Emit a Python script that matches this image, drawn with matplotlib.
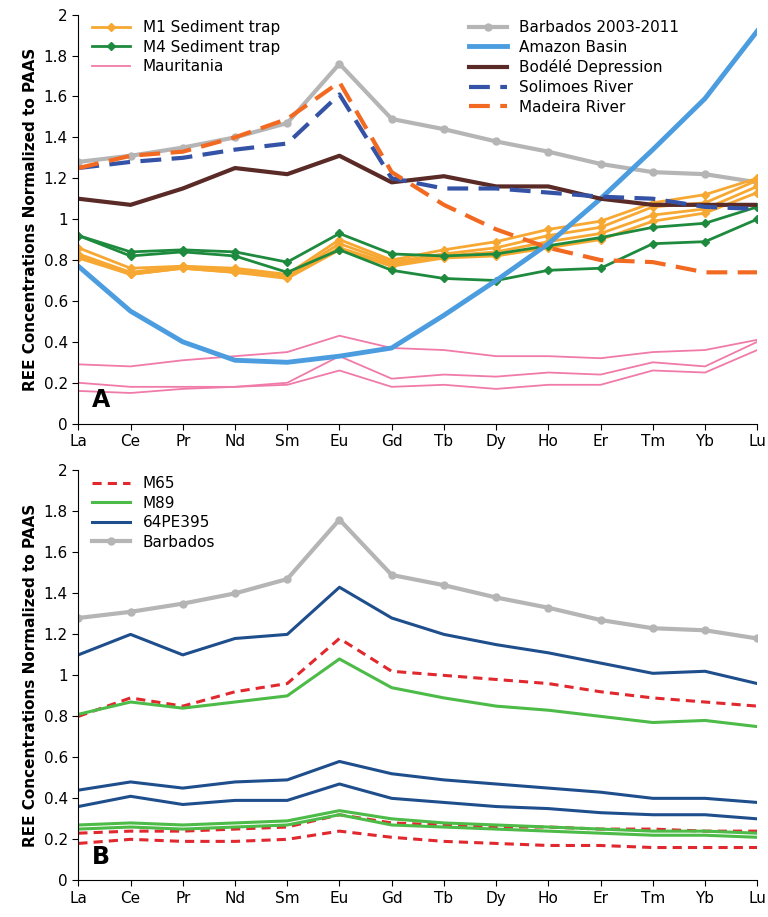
import numpy as np
import matplotlib.pyplot as plt

ree = ["La", "Ce", "Pr", "Nd", "Sm", "Eu", "Gd", "Tb", "Dy", "Ho", "Er", "Tm", "Yb", "Lu"]

barbados = [1.28, 1.31, 1.35, 1.40, 1.47, 1.76, 1.49, 1.44, 1.38, 1.33, 1.27, 1.23, 1.22, 1.18]
amazon = [0.77, 0.55, 0.40, 0.31, 0.30, 0.33, 0.37, 0.53, 0.70, 0.88, 1.10, 1.34, 1.59, 1.92]
bodele = [1.10, 1.07, 1.15, 1.25, 1.22, 1.31, 1.18, 1.21, 1.16, 1.16, 1.10, 1.07, 1.07, 1.07]
solimoes = [1.25, 1.28, 1.30, 1.34, 1.37, 1.61, 1.20, 1.15, 1.15, 1.13, 1.11, 1.10, 1.06, 1.05]
madeira = [1.25, 1.31, 1.33, 1.40, 1.49, 1.67, 1.23, 1.07, 0.95, 0.86, 0.80, 0.79, 0.74, 0.74]

m1_trap = [
    [0.86, 0.76, 0.77, 0.76, 0.73, 0.90, 0.80, 0.85, 0.89, 0.95, 0.99, 1.08, 1.12, 1.20],
    [0.83, 0.74, 0.77, 0.75, 0.72, 0.88, 0.79, 0.83, 0.86, 0.92, 0.96, 1.06, 1.08, 1.19],
    [0.82, 0.73, 0.76, 0.74, 0.72, 0.86, 0.78, 0.82, 0.84, 0.89, 0.93, 1.02, 1.05, 1.16],
    [0.81, 0.73, 0.76, 0.74, 0.71, 0.85, 0.77, 0.81, 0.82, 0.86, 0.90, 0.99, 1.03, 1.13],
]
m4_trap = [
    [0.92, 0.84, 0.85, 0.84, 0.79, 0.93, 0.83, 0.82, 0.83, 0.87, 0.91, 0.96, 0.98, 1.06],
    [0.92, 0.82, 0.84, 0.82, 0.74, 0.85, 0.75, 0.71, 0.70, 0.75, 0.76, 0.88, 0.89, 1.00],
]
mauritania = [
    [0.29, 0.28, 0.31, 0.33, 0.35, 0.43, 0.37, 0.36, 0.33, 0.33, 0.32, 0.35, 0.36, 0.41],
    [0.20, 0.18, 0.18, 0.18, 0.20, 0.33, 0.22, 0.24, 0.23, 0.25, 0.24, 0.30, 0.28, 0.40],
    [0.16, 0.15, 0.17, 0.18, 0.19, 0.26, 0.18, 0.19, 0.17, 0.19, 0.19, 0.26, 0.25, 0.36],
]

m65 = [
    [0.80, 0.89, 0.85, 0.92, 0.96, 1.18, 1.02, 1.00, 0.98, 0.96, 0.92, 0.89, 0.87, 0.85],
    [0.23, 0.24, 0.24, 0.25, 0.26, 0.32, 0.28, 0.27, 0.26, 0.26, 0.25, 0.25, 0.24, 0.24],
    [0.18, 0.20, 0.19, 0.19, 0.20, 0.24, 0.21, 0.19, 0.18, 0.17, 0.17, 0.16, 0.16, 0.16],
]
m89 = [
    [0.81, 0.87, 0.84, 0.87, 0.90, 1.08, 0.94, 0.89, 0.85, 0.83, 0.80, 0.77, 0.78, 0.75],
    [0.27, 0.28, 0.27, 0.28, 0.29, 0.34, 0.30, 0.28, 0.27, 0.26, 0.25, 0.24, 0.24, 0.23],
    [0.25, 0.26, 0.25, 0.26, 0.27, 0.32, 0.27, 0.26, 0.25, 0.24, 0.23, 0.22, 0.22, 0.21],
]
pe395 = [
    [1.10, 1.20, 1.10, 1.18, 1.20, 1.43, 1.28, 1.20, 1.15, 1.11, 1.06, 1.01, 1.02, 0.96],
    [0.44, 0.48, 0.45, 0.48, 0.49, 0.58, 0.52, 0.49, 0.47, 0.45, 0.43, 0.40, 0.40, 0.38],
    [0.36, 0.41, 0.37, 0.39, 0.39, 0.47, 0.40, 0.38, 0.36, 0.35, 0.33, 0.32, 0.32, 0.30],
]

x = np.arange(len(ree))
fig = plt.figure(figsize=(7.68, 9.17), dpi=100)
ax1 = fig.add_axes([0.102, 0.538, 0.884, 0.446])
ax2 = fig.add_axes([0.102, 0.040, 0.884, 0.447])


def estilo(ax, letra):
    ax.set_xlim(0, 13)
    ax.set_ylim(0, 2)
    ax.set_yticks(np.arange(0, 2.01, 0.2))
    ax.set_yticklabels(["0", "0.2", "0.4", "0.6", "0.8", "1", "1.2", "1.4", "1.6", "1.8", "2"])
    ax.set_xticks(x)
    ax.set_xticklabels(ree)
    ax.tick_params(labelsize=11, direction="out", length=4)
    for s in ["top", "right"]:
        ax.spines[s].set_visible(False)
    ax.set_ylabel("REE Concentrations Normalized to PAAS", fontsize=11, fontweight="bold")
    ax.text(0.02, 0.04, letra, transform=ax.transAxes, fontsize=17, fontweight="bold")


# Panel A
h = {}
for i, serie in enumerate(m1_trap):
    h["m1"], = ax1.plot(x, serie, color="#f7a833", lw=2, marker="D", ms=4)
for serie in m4_trap:
    h["m4"], = ax1.plot(x, serie, color="#1e8a3e", lw=2, marker="D", ms=4)
for serie in mauritania:
    h["mau"], = ax1.plot(x, serie, color="#f07aa8", lw=1.3)
h["bar"], = ax1.plot(x, barbados, color="#b5b5b5", lw=3, marker="o", ms=5, zorder=1)
h["ama"], = ax1.plot(x, amazon, color="#4c9ddf", lw=3.5)
h["bod"], = ax1.plot(x, bodele, color="#5a2a27", lw=3)
h["sol"], = ax1.plot(x, solimoes, color="#3553a6", lw=3, ls=(0, (5, 2.5)))
h["mad"], = ax1.plot(x, madeira, color="#f26a22", lw=3, ls=(0, (5, 2.5)))
l1 = ax1.legend([h["m1"], h["m4"], h["mau"]], ["M1 Sediment trap", "M4 Sediment trap", "Mauritania"],
                loc="upper left", bbox_to_anchor=(0.0, 1.02), frameon=False, fontsize=11,
                handlelength=2.5, labelspacing=0.3)
ax1.add_artist(l1)
ax1.legend([h["bar"], h["ama"], h["bod"], h["sol"], h["mad"]],
           ["Barbados 2003-2011", "Amazon Basin", "Bodélé Depression", "Solimoes River", "Madeira River"],
           loc="upper left", bbox_to_anchor=(0.555, 1.02), frameon=False, fontsize=11,
           handlelength=2.5, labelspacing=0.3)
estilo(ax1, "A")

# Panel B
for serie in m65:
    g1, = ax2.plot(x, serie, color="#e0282e", lw=2.2, ls=(0, (3, 2)))
for serie in m89:
    g2, = ax2.plot(x, serie, color="#4cbb47", lw=2.2)
for serie in pe395:
    g3, = ax2.plot(x, serie, color="#1f4e8c", lw=2.2)
g4, = ax2.plot(x, barbados, color="#b5b5b5", lw=3, marker="o", ms=5)
ax2.legend([g1, g2, g3, g4], ["M65", "M89", "64PE395", "Barbados"], loc="upper left",
           bbox_to_anchor=(0.0, 1.02), frameon=False, fontsize=11, handlelength=2.5, labelspacing=0.3)
estilo(ax2, "B")

fig.savefig("out.png", dpi=100)
